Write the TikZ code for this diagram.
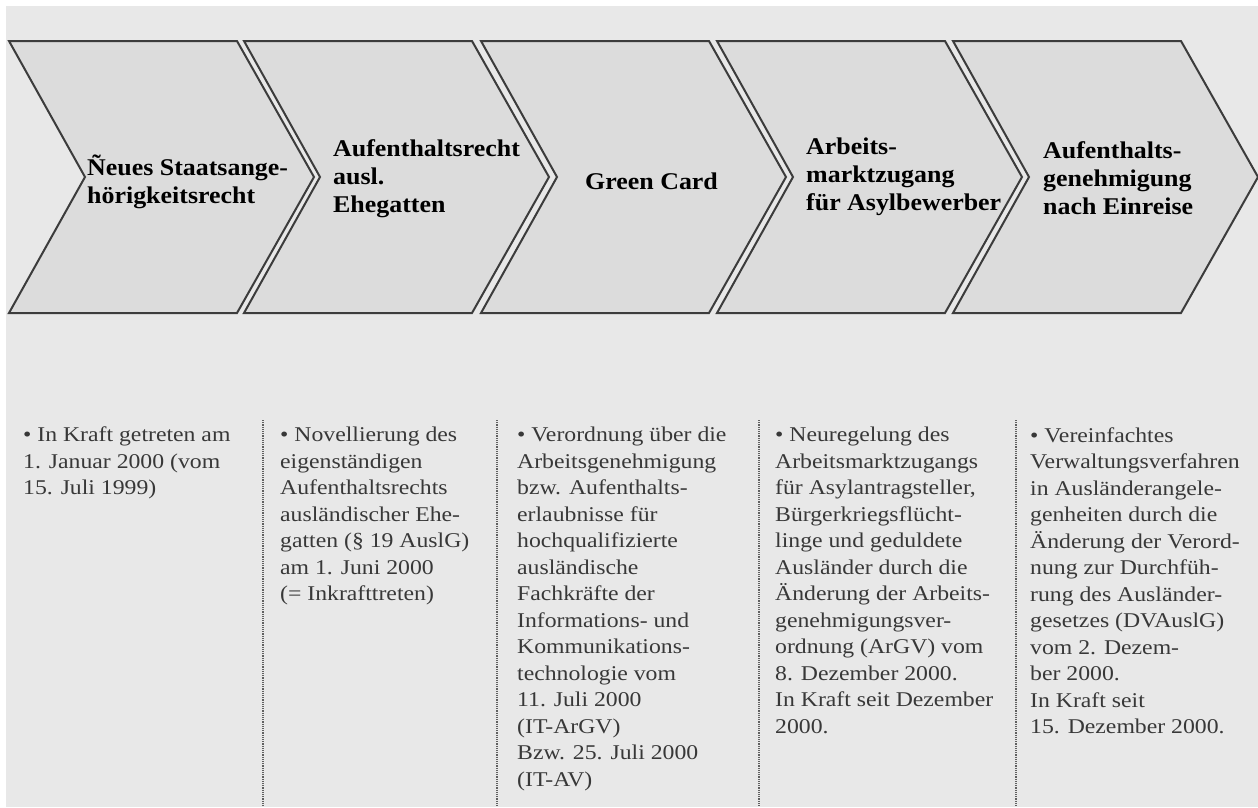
\documentclass[tikz,border=0pt]{standalone}
\usepackage{fontspec}
\newfontfamily\titlefont[FakeStretch=1.08]{Liberation Serif}
\newfontfamily\bodyfont[FakeStretch=1.13]{Liberation Serif}
\definecolor{bggrey}{HTML}{E8E8E8}
\definecolor{chevfill}{HTML}{DCDCDC}
\definecolor{chevline}{HTML}{3C3C3C}
\definecolor{bodytext}{HTML}{383838}
\definecolor{sepline}{HTML}{606060}
\tikzset{
  chevron/.style={fill=chevfill, draw=chevline, line width=2pt, line join=miter},
  title/.style={anchor=west, align=left, inner sep=0pt, text=black,
    font=\titlefont\bfseries\fontsize{24}{28}\selectfont},
  body/.style={anchor=north west, align=left, inner sep=0pt, text=bodytext,
    font=\bodyfont\fontsize{21}{26.5}\selectfont},
  sep/.style={draw=sepline, line width=1.1pt, dash pattern=on 1.1pt off 1.1pt}
}
\begin{document}
\begin{tikzpicture}[x=1pt,y=-1pt]
\useasboundingbox (0,0) rectangle (1258,807);
\fill[white] (0,0) rectangle (1258,807);
\fill[bggrey] (6,6) rectangle (1258,807);
% chevrons
\foreach \xo in {9,244,481,717,953}{
  \draw[chevron] (\xo,41) -- (\xo+228,41) -- (\xo+305,177) -- (\xo+228,313)
     -- (\xo,313) -- (\xo+76,177) -- cycle;
}
% titles
\node[title] (t1) at (87,182) {Ñeues Staatsange-\\hörigkeitsrecht};
\node[title] (t2) at (333,179) {Aufenthaltsrecht\\ausl.\\Ehegatten};
\node[title] (t3) at (585,181) {Green Card};
\node[title] (t4) at (806,177) {Arbeits-\\marktzugang\\für Asylbewerber};
\node[title] (t5) at (1043,178) {Aufenthalts-\\genehmigung\\nach Einreise};
% separators
\foreach \xs in {263,497,759,1016}{
  \draw[sep] (\xs,420) -- (\xs,807);
}
% body texts
\node[body] (b1) at (23,427) {• In Kraft getreten am\\1. Januar 2000 (vom\\15. Juli 1999)};
\node[body] (b2) at (280,427) {• Novellierung des\\eigenständigen\\Aufenthaltsrechts\\ausländischer Ehe-\\gatten (§ 19 AuslG)\\am 1. Juni 2000\\(= Inkrafttreten)};
\node[body] (b3) at (517,427) {• Verordnung über die\\Arbeitsgenehmigung\\bzw. Aufenthalts-\\erlaubnisse für\\hochqualifizierte\\ausländische\\Fachkräfte der\\Informations- und\\Kommunikations-\\technologie vom\\11. Juli 2000\\(IT-ArGV)\\Bzw. 25. Juli 2000\\(IT-AV)};
\node[body] (b4) at (775,427) {• Neuregelung des\\Arbeitsmarktzugangs\\für Asylantragsteller,\\Bürgerkriegsflücht-\\linge und geduldete\\Ausländer durch die\\Änderung der Arbeits-\\genehmigungsver-\\ordnung (ArGV) vom\\8. Dezember 2000.\\In Kraft seit Dezember\\2000.};
\node[body] (b5) at (1030,427) {• Vereinfachtes\\Verwaltungsverfahren\\in Ausländerangele-\\genheiten durch die\\Änderung der Verord-\\nung zur Durchfüh-\\rung des Ausländer-\\gesetzes (DVAuslG)\\vom 2. Dezem-\\ber 2000.\\In Kraft seit\\15. Dezember 2000.};
\end{tikzpicture}
\end{document}
